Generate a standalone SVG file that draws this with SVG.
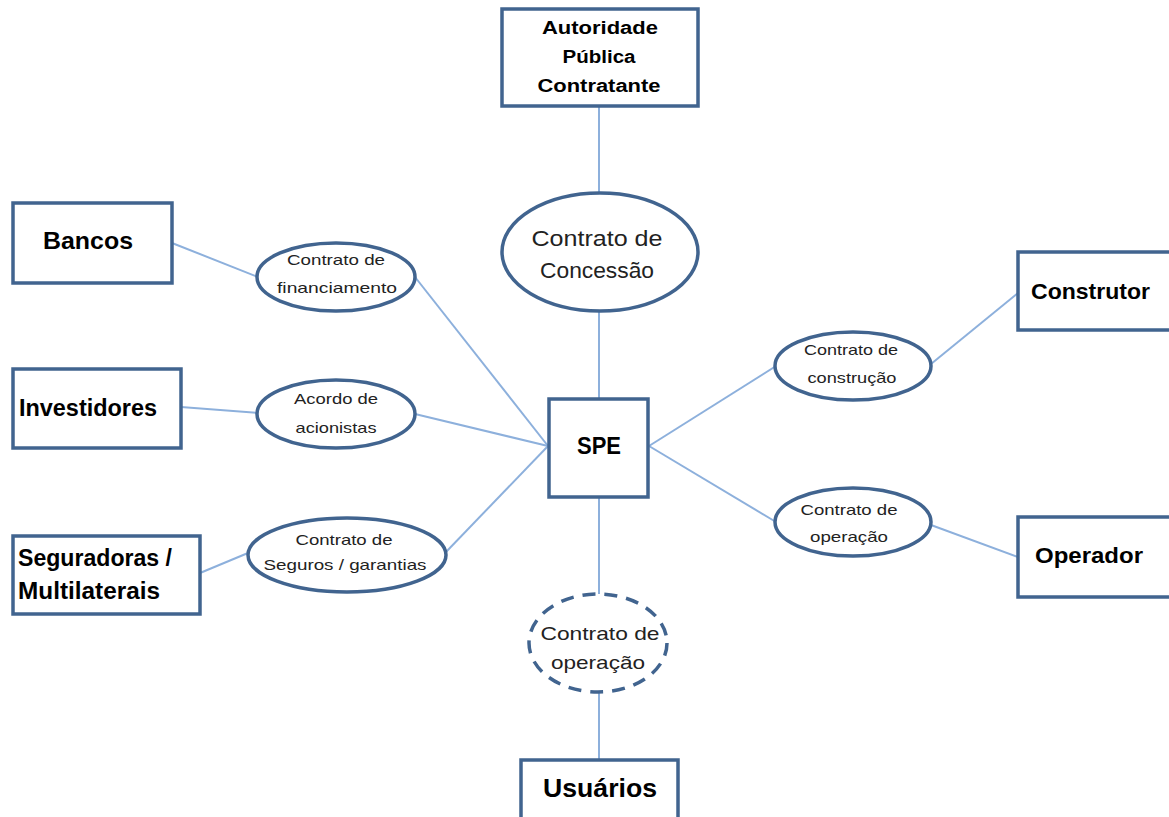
<svg xmlns="http://www.w3.org/2000/svg" width="1169" height="817" viewBox="0 0 1169 817">
<style>
.box{fill:#fff;stroke:#41648f;stroke-width:3.5}
.ell{fill:#fff;stroke:#41648f;stroke-width:3.5}
.dash{fill:#fff;stroke:#41648f;stroke-width:3.5;stroke-dasharray:13 9}
.ln{stroke:#8db0dc;stroke-width:2;fill:none}
.bt{font-family:"Liberation Sans",Arial,sans-serif;font-weight:bold;fill:#000}
.et{font-family:"Liberation Sans",Arial,sans-serif;fill:#222;text-anchor:middle}
</style>
<rect width="1169" height="817" fill="#fff"/>
<g id="connectors">
<line class="ln" x1="599" y1="107" x2="599" y2="194"/>
<line class="ln" x1="599" y1="311" x2="599" y2="400"/>
<line class="ln" x1="172" y1="243" x2="258" y2="277"/>
<line class="ln" x1="415" y1="277" x2="548" y2="446"/>
<line class="ln" x1="181" y1="407" x2="258" y2="413"/>
<line class="ln" x1="415" y1="414" x2="548" y2="446"/>
<line class="ln" x1="200" y1="573" x2="248" y2="553"/>
<line class="ln" x1="446" y1="552" x2="548" y2="446"/>
<line class="ln" x1="649" y1="446" x2="776" y2="366"/>
<line class="ln" x1="931" y1="364" x2="1018" y2="293"/>
<line class="ln" x1="649" y1="446" x2="776" y2="522"/>
<line class="ln" x1="931" y1="525" x2="1018" y2="557"/>
<line class="ln" x1="599" y1="498" x2="599" y2="594"/>
<line class="ln" x1="599" y1="692" x2="599" y2="761"/>
</g>
<g id="autoridade">
<rect class="box" x="502" y="9" width="196" height="97"/>
<text class="bt" x="600" y="34" font-size="18" text-anchor="middle" textLength="116" lengthAdjust="spacingAndGlyphs">Autoridade</text>
<text class="bt" x="599" y="63" font-size="18" text-anchor="middle" textLength="73" lengthAdjust="spacingAndGlyphs">Pública</text>
<text class="bt" x="599" y="92" font-size="18" text-anchor="middle" textLength="123" lengthAdjust="spacingAndGlyphs">Contratante</text>
</g>
<g id="concessao">
<ellipse class="ell" cx="600" cy="252" rx="98" ry="59"/>
<text class="et" x="597" y="246" font-size="22" textLength="131" lengthAdjust="spacingAndGlyphs">Contrato de</text>
<text class="et" x="597" y="278" font-size="22" textLength="114" lengthAdjust="spacingAndGlyphs">Concessão</text>
</g>
<g id="bancos">
<rect class="box" x="13" y="203" width="159" height="80"/>
<text class="bt" x="43" y="249" font-size="24" textLength="90" lengthAdjust="spacingAndGlyphs">Bancos</text>
</g>
<g id="financiamento">
<ellipse class="ell" cx="336" cy="277" rx="79" ry="34"/>
<text class="et" x="336" y="265" font-size="14.5" textLength="98" lengthAdjust="spacingAndGlyphs">Contrato de</text>
<text class="et" x="337" y="293" font-size="14.5" textLength="120" lengthAdjust="spacingAndGlyphs">financiamento</text>
</g>
<g id="investidores">
<rect class="box" x="13" y="369" width="168" height="79"/>
<text class="bt" x="19" y="416" font-size="23" textLength="138" lengthAdjust="spacingAndGlyphs">Investidores</text>
</g>
<g id="acordo">
<ellipse class="ell" cx="336" cy="414" rx="79" ry="34"/>
<text class="et" x="336" y="404" font-size="14.5" textLength="84" lengthAdjust="spacingAndGlyphs">Acordo de</text>
<text class="et" x="336" y="433" font-size="14.5" textLength="81" lengthAdjust="spacingAndGlyphs">acionistas</text>
</g>
<g id="seguradoras">
<rect class="box" x="13" y="536" width="187" height="78"/>
<text class="bt" x="18" y="566" font-size="23" textLength="154" lengthAdjust="spacingAndGlyphs">Seguradoras /</text>
<text class="bt" x="18" y="599" font-size="23" textLength="142" lengthAdjust="spacingAndGlyphs">Multilaterais</text>
</g>
<g id="seguros">
<ellipse class="ell" cx="347" cy="555" rx="99" ry="37"/>
<text class="et" x="344" y="545" font-size="14.5" textLength="97" lengthAdjust="spacingAndGlyphs">Contrato de</text>
<text class="et" x="345" y="570" font-size="14.5" textLength="163" lengthAdjust="spacingAndGlyphs">Seguros / garantias</text>
</g>
<g id="spe">
<rect class="box" x="549" y="399" width="99" height="98"/>
<text class="bt" x="599" y="454" font-size="24" text-anchor="middle" textLength="44" lengthAdjust="spacingAndGlyphs">SPE</text>
</g>
<g id="construtor">
<rect class="box" x="1018" y="252" width="160" height="78"/>
<text class="bt" x="1031" y="299" font-size="22" textLength="119" lengthAdjust="spacingAndGlyphs">Construtor</text>
</g>
<g id="construcao">
<ellipse class="ell" cx="853" cy="366" rx="78" ry="34"/>
<text class="et" x="851" y="355" font-size="14.5" textLength="94" lengthAdjust="spacingAndGlyphs">Contrato de</text>
<text class="et" x="852" y="383" font-size="14.5" textLength="89" lengthAdjust="spacingAndGlyphs">construção</text>
</g>
<g id="operacao">
<ellipse class="ell" cx="853" cy="522" rx="78" ry="34"/>
<text class="et" x="849" y="515" font-size="14.5" textLength="97" lengthAdjust="spacingAndGlyphs">Contrato de</text>
<text class="et" x="849" y="542" font-size="14.5" textLength="78" lengthAdjust="spacingAndGlyphs">operação</text>
</g>
<g id="operador">
<rect class="box" x="1018" y="517" width="160" height="80"/>
<text class="bt" x="1035" y="563" font-size="22" textLength="108" lengthAdjust="spacingAndGlyphs">Operador</text>
</g>
<g id="operacao-usuarios">
<ellipse class="dash" cx="598" cy="643" rx="69" ry="49"/>
<text class="et" x="600" y="640" font-size="19" textLength="119" lengthAdjust="spacingAndGlyphs" fill="#111">Contrato de</text>
<text class="et" x="598" y="669" font-size="19" textLength="94" lengthAdjust="spacingAndGlyphs" fill="#111">operação</text>
</g>
<g id="usuarios">
<rect class="box" x="521" y="760" width="157" height="70"/>
<text class="bt" x="600" y="797" font-size="26" text-anchor="middle" textLength="114" lengthAdjust="spacingAndGlyphs">Usuários</text>
</g>
</svg>
